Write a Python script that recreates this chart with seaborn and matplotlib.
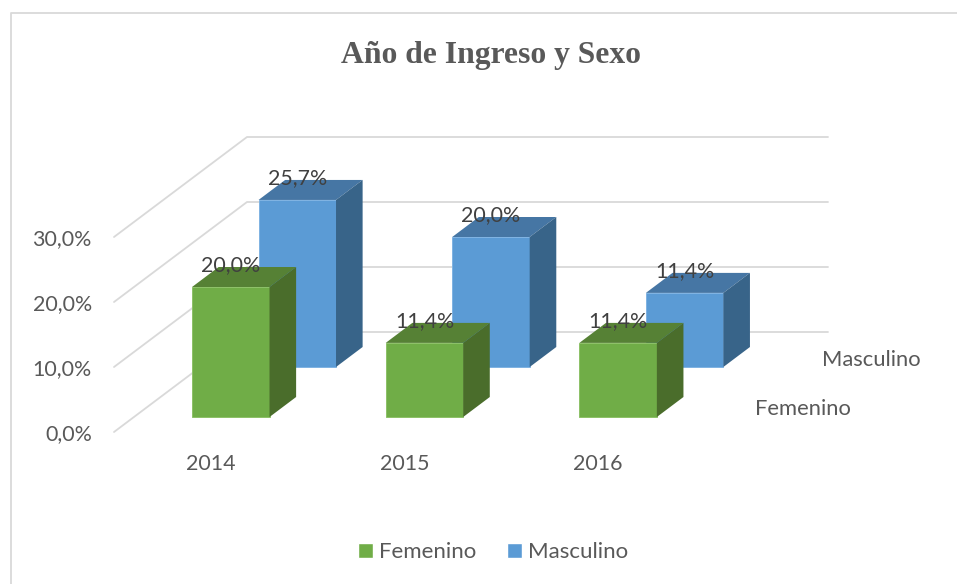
"""
Año de Ingreso y Sexo: columnas 3D hechas con seaborn
"""

import matplotlib
matplotlib.use("Agg")
import matplotlib.pyplot as plt
from matplotlib.lines import Line2D
from matplotlib.patches import Polygon
import pandas as pd
import seaborn as sns

# Data
years = ["2014", "2015", "2016"]
femenino = [20.0, 11.4, 11.4]
masculino = [25.7, 20.0, 11.4]
series_names = ["Femenino", "Masculino"]
y_ticks = [0, 10, 20, 30]

FIG_W, FIG_H = 957, 584
AX_LEFT, AX_RIGHT, AX_BOTTOM, AX_TOP = 114, 695, 432, 237

GREEN = "#70AD47"
BLUE = "#5B9BD5"
FACE_COLORS = {
    "Femenino": {"top": "#568135", "side": "#4A6D2B", "edge": "#8DC168"},
    "Masculino": {"top": "#4676A4", "side": "#386489", "edge": "#7FB3E2"},
}
GRID = "#D9D9D9"
TEXT = "#595959"
LABEL = "#404040"

# One depth row in data units (66.5 px right, 50 px up on the page)
DEPTH_X = 66.5 / ((AX_RIGHT - AX_LEFT) / len(years))
DEPTH_Y = 50 / ((AX_BOTTOM - AX_TOP) / y_ticks[-1])
BAR_FRONT, BAR_BACK = 0.3, 0.7


def project(x, y, depth):
    """Data position of a point that sits `depth` rows behind the front plane"""
    return x + depth * DEPTH_X, y + depth * DEPTH_Y


def draw_walls(ax):
    """Gridlines along the side wall and the back wall"""
    n_rows = len(series_names)
    for tick in y_ticks:
        points = [
            project(-0.5, tick, 0),
            project(-0.5, tick, n_rows),
            project(len(years) - 0.5, tick, n_rows),
        ]
        ax.add_line(Line2D([p[0] for p in points], [p[1] for p in points],
                           color=GRID, lw=1.3, clip_on=False, zorder=1))


def extrude_bars(ax, container, row, name):
    """Move a row of seaborn bars back in depth and add their top and side faces"""
    colors = FACE_COLORS[name]
    for rect in container:
        x0, width, height = rect.get_x(), rect.get_width(), rect.get_height()
        x1 = x0 + width
        rect.set_x(project(x0, 0, row + BAR_FRONT)[0])
        rect.set_y(project(x0, 0, row + BAR_FRONT)[1])
        rect.set_edgecolor(colors["edge"])
        rect.set_linewidth(0.7)
        rect.set_zorder(4 - row)
        rect.set_clip_on(False)

        front, back = row + BAR_FRONT, row + BAR_BACK
        top = [project(x0, height, front), project(x1, height, front),
               project(x1, height, back), project(x0, height, back)]
        side = [project(x1, 0, front), project(x1, height, front),
                project(x1, height, back), project(x1, 0, back)]
        ax.add_patch(Polygon(top, closed=True, facecolor=colors["top"], edgecolor="none",
                             clip_on=False, zorder=4 - row))
        ax.add_patch(Polygon(side, closed=True, facecolor=colors["side"], edgecolor="none",
                             clip_on=False, zorder=4 - row))

        # Data label, above the front face
        cx, cy = project((x0 + x1) / 2, height, front)
        ax.annotate(f"{height:.1f}%".replace(".", ","), (cx, cy), xytext=(0, 16),
                    textcoords="offset points", ha="center", va="center",
                    fontsize=15.4, color=LABEL, zorder=8, annotation_clip=False)


def main():
    sns.set_theme(style="white")
    plt.rcParams["font.family"] = ["Lato", "DejaVu Sans"]

    df = pd.DataFrame({
        "anio": years * 2,
        "pct": femenino + masculino,
        "sexo": [series_names[0]] * len(years) + [series_names[1]] * len(years),
    })

    fig = plt.figure(figsize=(FIG_W / 100, FIG_H / 100), dpi=100, facecolor="white")
    ax = fig.add_axes([
        AX_LEFT / FIG_W,
        1 - AX_BOTTOM / FIG_H,
        (AX_RIGHT - AX_LEFT) / FIG_W,
        (AX_BOTTOM - AX_TOP) / FIG_H,
    ])
    ax.patch.set_alpha(0)

    sns.barplot(data=df, x="anio", y="pct", hue="sexo", hue_order=series_names,
                palette=[GREEN, BLUE], dodge=False, width=0.4, saturation=1, ax=ax)

    ax.set_xlim(-0.5, len(years) - 0.5)
    ax.set_ylim(y_ticks[0], y_ticks[-1])
    ax.set_yticks(y_ticks)
    ax.set_yticklabels([f"{t:.1f}%".replace(".", ",") for t in y_ticks])
    ax.set_xlabel("")
    ax.set_ylabel("")
    ax.tick_params(axis="y", length=0, pad=16, labelsize=15.4, labelcolor=TEXT)
    ax.tick_params(axis="x", length=0, pad=15.5, labelsize=15.4, labelcolor=TEXT)
    sns.despine(ax=ax, left=True, bottom=True)

    draw_walls(ax)
    for row, (container, name) in enumerate(zip(ax.containers, series_names)):
        extrude_bars(ax, container, row, name)

    # Depth axis labels, to the right of the floor
    for row, name, drop in [(0, series_names[0], -1.5), (1, series_names[1], -2.5)]:
        px, py = project(len(years) - 0.5, 0, row + 0.5)
        ax.annotate(name, (px, py), xytext=(19.4, drop), textcoords="offset points",
                    ha="left", va="center", fontsize=15.8, color=TEXT, annotation_clip=False)

    # Chart frame runs off the right and bottom of the picture
    fig.add_artist(Line2D([11 / FIG_W, 11 / FIG_W, 1], [0, 1 - 13 / FIG_H, 1 - 13 / FIG_H],
                          color=GRID, lw=1.3, transform=fig.transFigure))

    fig.text(491 / FIG_W, 1 - 56 / FIG_H, "Año de Ingreso y Sexo", ha="center", va="center",
             family=["Liberation Serif"], fontweight="bold", fontsize=22.8, color=TEXT)

    sns.move_legend(ax, "center", bbox_to_anchor=(493 / FIG_W, 1 - 552 / FIG_H),
                    bbox_transform=fig.transFigure, ncol=2, frameon=False, title=None,
                    fontsize=16, handlelength=0.68, handleheight=0.68, handletextpad=0.25,
                    columnspacing=1.4, labelcolor=TEXT)

    fig.savefig("out.png", dpi=100)
    plt.close(fig)


if __name__ == "__main__":
    main()
